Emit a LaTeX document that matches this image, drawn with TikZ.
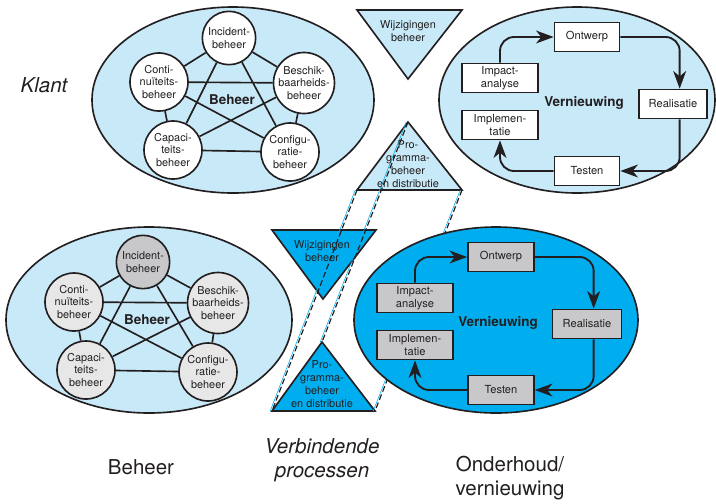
\documentclass[tikz,border=0pt]{standalone}
\usepackage{fontspec}
\setmainfont{TeX Gyre Heros}
\usepackage{xcolor}
\usepackage{tikz}
\usetikzlibrary{arrows.meta}
\usetikzlibrary{shapes.geometric}
\definecolor{lichtblauw}{RGB}{200,233,248}
\definecolor{donkerblauw}{RGB}{0,174,239}
\definecolor{lichtgrijs}{RGB}{231,231,232}
\definecolor{grijs}{RGB}{200,200,202}
\definecolor{inkt}{RGB}{35,31,32}
\tikzset{>=Stealth}
\tikzstyle{veld} = [ellipse, draw=inkt, line width=1.4pt, minimum height=55.8mm]
\tikzstyle{proces} = [circle, draw=inkt, line width=1.4pt, minimum size=17.4mm, inner sep=0pt, align=center, text=inkt, font=\fontsize{9.3}{10.5}\selectfont]
\tikzstyle{stap} = [rectangle, draw=inkt, line width=1.5pt, minimum height=8.7mm, inner sep=1pt, align=center, text=inkt, font=\fontsize{9.5}{10.5}\selectfont]
\tikzstyle{verband} = [draw=inkt, line width=1.4pt]
\tikzstyle{stroom} = [-{Stealth[length=15pt,width=11pt,inset=4.5pt]}, draw=inkt, line width=1.6pt, rounded corners=12pt]
\tikzstyle{driehoek} = [draw=inkt, line width=1.4pt, line join=miter]
\tikzstyle{klein} = [align=center, text=inkt, font=\fontsize{9.3}{11}\selectfont]
\tikzstyle{kop} = [align=center, text=inkt, font=\fontsize{17.5}{20.5}\selectfont]
\tikzstyle{naam} = [text=inkt, font=\fontsize{11.5}{13}\selectfont\bfseries]
\tikzstyle{koppel} = [draw=inkt, line width=1pt, dash pattern=on 5pt off 2.5pt]
\tikzstyle{koppelrand} = [draw=donkerblauw, line width=0.5pt]

\begin{document}
\begin{tikzpicture}[x=0.3mm, y=-0.3mm]
\useasboundingbox (0,0) rectangle (716,503);

% velden boven
\node [veld, fill=lichtblauw, minimum width=84.6mm] (beheer1) at (233,100) {};
\node [veld, fill=lichtblauw, minimum width=82.8mm] (vern1) at (577,100) {};

% hoekpunten driehoeken
\coordinate (wb-l) at (357,10);
\coordinate (wb-r) at (462,10);
\coordinate (wb-p) at (408,79);
\coordinate (pb-t) at (408,122);
\coordinate (pb-l) at (357,190);
\coordinate (pb-r) at (462,190);
\coordinate (wo-l) at (272,230);
\coordinate (wo-r) at (376,230);
\coordinate (wo-p) at (323,299);
\coordinate (po-t) at (322,342);
\coordinate (po-l) at (272,411);
\coordinate (po-r) at (375,411);

\draw [driehoek, fill=lichtblauw] (wb-l) -- (wb-r) -- (wb-p) -- cycle;
\draw [driehoek, fill=lichtblauw] (pb-t) -- (pb-r) -- (pb-l) -- cycle;

% velden onder
\node [veld, fill=lichtblauw, minimum width=85.8mm] (beheer2) at (149,320) {};
\draw [driehoek, fill=donkerblauw] (wo-l) -- (wo-r) -- (wo-p) -- cycle;
\draw [driehoek, fill=donkerblauw] (po-t) -- (po-r) -- (po-l) -- cycle;

% koppellijnen
\draw [koppelrand] ([xshift=-1.5pt]pb-l) -- ([xshift=-1.5pt]po-l);
\draw [koppelrand] ([xshift=-1.5pt]pb-t) -- ([xshift=-1.5pt]po-t);
\draw [koppelrand] ([xshift=-1.5pt]pb-r) -- ([xshift=-1.5pt]po-r);
\draw [koppel] (pb-l) -- (po-l);
\draw [koppel] (pb-t) -- (po-t);
\draw [koppel] (pb-r) -- (po-r);

\node [veld, fill=donkerblauw, minimum width=85.2mm] (vern2) at (496,320) {};

% teksten driehoeken
\node [klein] (wb) at (408,31) {Wijzigingen\\beheer};
\node [klein] (pb) at (408,164) {Pro-\\gramma-\\beheer\\en distributie};
\node [klein] (wo) at (322,251) {Wijzigingen\\beheer};
\node [klein] (po) at (322,384) {Pro-\\gramma-\\beheer\\en distributie};

% beheer boven
\node [naam] (bl1) at (232,100) {Beheer};
\node [proces, fill=white, minimum size=16mm] (inc1) at (229,38) {Incident-\\beheer};
\node [proces, fill=white] (con1) at (159,82) {Conti-\\nuïteits-\\beheer};
\node [proces, fill=white] (bes1) at (304,83) {Beschik-\\baarheids-\\beheer};
\node [proces, fill=white] (cap1) at (173,150) {Capaci-\\teits-\\beheer};
\node [proces, fill=white] (cfg1) at (290,152) {Configu-\\ratie-\\beheer};
\draw [verband] (inc1) -- (con1) (inc1) -- (bes1) (inc1) -- (cap1) (inc1) -- (cfg1)
  (con1) -- (bes1) (con1) -- (cap1) (con1) -- (cfg1)
  (bes1) -- (cap1) (bes1) -- (cfg1) (cap1) -- (cfg1);

% beheer onder
\node [naam] (bl2) at (147,320) {Beheer};
\node [proces, fill=grijs, minimum size=16mm] (inc2) at (143,262) {Incident-\\beheer};
\node [proces, fill=lichtgrijs] (con2) at (74,302) {Conti-\\nuïteits-\\beheer};
\node [proces, fill=lichtgrijs] (bes2) at (218,303) {Beschik-\\baarheids-\\beheer};
\node [proces, fill=lichtgrijs] (cap2) at (86,370) {Capaci-\\teits-\\beheer};
\node [proces, fill=lichtgrijs] (cfg2) at (208,372) {Configu-\\ratie-\\beheer};
\draw [verband] (inc2) -- (con2) (inc2) -- (bes2) (inc2) -- (cap2) (inc2) -- (cfg2)
  (con2) -- (bes2) (con2) -- (cap2) (con2) -- (cfg2)
  (bes2) -- (cap2) (bes2) -- (cfg2) (cap2) -- (cfg2);

% vernieuwing boven
\node [naam] (vl1) at (584,103) {Vernieuwing};
\node [stap, fill=white, minimum width=19.5mm] (ont1) at (587,37) {Ontwerp};
\node [stap, fill=white, minimum width=23mm] (imp1) at (500,78) {Impact-\\analyse};
\node [stap, fill=white, minimum width=20.4mm] (rea1) at (673,104) {Realisatie};
\node [stap, fill=white, minimum width=23mm] (iml1) at (500,125) {Implemen-\\tatie};
\node [stap, fill=white, minimum width=19.5mm] (tes1) at (587,171) {Testen};
\draw [stroom] (imp1.north) |- (ont1.west);
\draw [stroom] (ont1.east) -| ([xshift=2mm]rea1.north);
\draw [stroom] ([xshift=2mm]rea1.south) |- (tes1.east);
\draw [stroom] (tes1.west) -| (iml1.south);

% vernieuwing onder
\node [naam] (vl2) at (498,323) {Vernieuwing};
\node [stap, fill=grijs, minimum width=19.8mm] (ont2) at (501,257) {Ontwerp};
\node [stap, fill=grijs, minimum width=22.8mm] (imp2) at (415,298) {Impact-\\analyse};
\node [stap, fill=grijs, minimum width=20.7mm] (rea2) at (587,324) {Realisatie};
\node [stap, fill=grijs, minimum width=22.8mm] (iml2) at (415,345) {Implemen-\\tatie};
\node [stap, fill=grijs, minimum width=19.8mm] (tes2) at (501,390) {Testen};
\draw [stroom] (imp2.north) |- (ont2.west);
\draw [stroom] (ont2.east) -| ([xshift=2mm]rea2.north);
\draw [stroom] ([xshift=2mm]rea2.south) |- (tes2.east);
\draw [stroom] (tes2.west) -| (iml2.south);

% opschriften
\node [kop, font=\fontsize{17.5}{20.5}\selectfont\itshape] (klant) at (44,85) {Klant};
\node [kop] (k1) at (141,467) {Beheer};
\node [kop, font=\fontsize{17.5}{20.5}\selectfont\itshape] (k2) at (322,460) {Verbindende\\processen};
\node [kop] (k3) at (510,478) {Onderhoud/\\vernieuwing};
\end{tikzpicture}
\end{document}
